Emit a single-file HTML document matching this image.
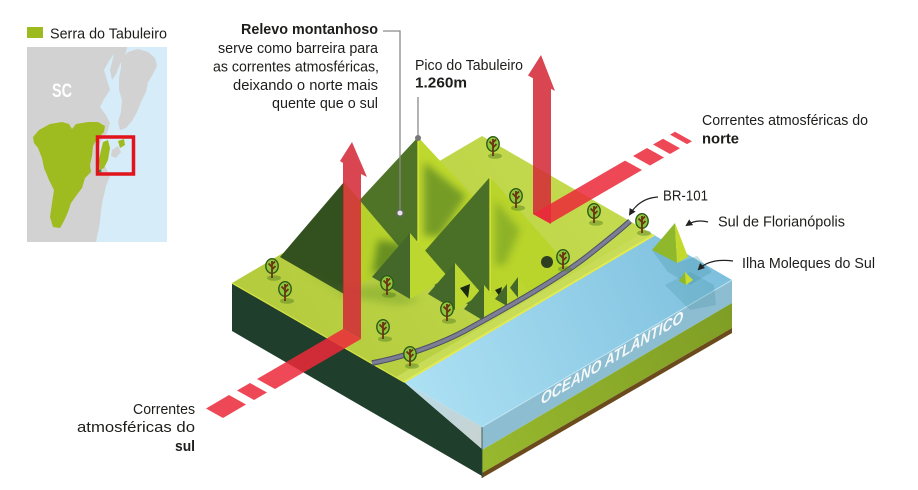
<!DOCTYPE html>
<html><head><meta charset="utf-8"><style>
html,body{margin:0;padding:0;background:#fff;}
svg{display:block;}
text{font-family:"Liberation Sans",sans-serif;fill:#1d1d1b;}
</style></head><body>
<svg width="918" height="490" viewBox="0 0 918 490" xmlns="http://www.w3.org/2000/svg">
<defs>
<linearGradient id="land" gradientUnits="userSpaceOnUse" x1="300" y1="340" x2="560" y2="160">
<stop offset="0" stop-color="#b4cc3e"/><stop offset="1" stop-color="#c4da4e"/></linearGradient>
<linearGradient id="sea" gradientUnits="userSpaceOnUse" x1="420" y1="400" x2="720" y2="270">
<stop offset="0" stop-color="#ace0f3"/><stop offset="1" stop-color="#7ec0de"/></linearGradient>
<linearGradient id="beach" gradientUnits="userSpaceOnUse" x1="404" y1="382" x2="482" y2="449">
<stop offset="0" stop-color="#b7dcea"/><stop offset="1" stop-color="#c9d2cf"/></linearGradient>
<linearGradient id="soil" gradientUnits="userSpaceOnUse" x1="482" y1="460" x2="732" y2="315">
<stop offset="0" stop-color="#98b82e"/><stop offset="1" stop-color="#7f9e25"/></linearGradient>
<filter id="b4" x="-50%" y="-50%" width="200%" height="200%"><feGaussianBlur stdDeviation="4"/></filter>
<filter id="b2" x="-50%" y="-50%" width="200%" height="200%"><feGaussianBlur stdDeviation="2"/></filter>
<marker id="ah" markerWidth="8" markerHeight="8" refX="5" refY="4" orient="auto" markerUnits="userSpaceOnUse"><path d="M0,0.5 L7,4 L0,7.5 Z" fill="#222"/></marker>
<g id="tree">
<ellipse cx="2" cy="11" rx="7" ry="2.8" fill="#4f7f1e" opacity="0.45"/>
<ellipse cx="0" cy="-1" rx="6.2" ry="7.3" fill="#8fc63c" stroke="#2f5a16" stroke-width="1.4"/>
<path d="M0,-6 V11 M0,0 L-3.5,-3.5 M0,2.5 L3.5,-1 M0,-2.5 L3,-5.5" stroke="#6b3413" stroke-width="1.8" fill="none"/>
</g>
</defs>

<!-- ===== Legend & map ===== -->
<rect x="27" y="27" width="16" height="11" fill="#9dbb1f"/>
<text x="50" y="38.5" font-size="15" textLength="117" lengthAdjust="spacingAndGlyphs">Serra do Tabuleiro</text>

<rect x="27" y="47" width="140" height="195" fill="#d6ecf8"/>
<polygon fill="#d2d2d2" points="27,47 118,47 114,54 109,61 104,70 107,80 110,90 104,99 100,107 106,115 110,123 107,133 101,141 97,150 99,160 106,168 110,176 106,186 103,199 101,210 100,222 98,232 96,242 27,242"/>
<polygon fill="#d2d2d2" points="116,47 127,47 125,56 120,64 116,74 112,80 110,70"/>
<polygon fill="#d2d2d2" points="121,60 128,52 138,49 148,52 155,58 157,66 153,74 148,82 146,92 141,102 137,112 132,121 126,128 120,130 118,122 121,112 122,100 119,90 119,78 121,68"/>
<polygon fill="#d2d2d2" points="112,150 118,146 121,152 116,158 111,156"/>
<polygon fill="#9ebb1f" points="33,137 39,130 50,124 62,122 69,124 72,129 76,124 88,122 98,122 105,126 104,132 97,139 93,146 92,156 90,165 91,172 85,178 82,188 76,196 71,203 68,212 64,221 60,228 53,227 50,217 52,203 54,190 49,180 44,168 42,158 38,148 34,143"/>
<polygon fill="#9ebb1f" points="103,142 108,140 110,148 108,160 104,168 100,170 99,160 101,150"/>
<polygon fill="#9ebb1f" points="118,141 124,139 125,145 120,148"/>
<circle cx="100" cy="171" r="1.5" fill="#2a9a4a"/>
<rect x="97.5" y="137" width="36" height="37" fill="none" stroke="#e1141c" stroke-width="3.5"/>
<text x="52" y="97" font-size="19" font-weight="bold" style="fill:#fff" textLength="20" lengthAdjust="spacingAndGlyphs">SC</text>

<!-- ===== Block ===== -->
<polygon fill="#1f3e2c" points="232,283 404,382 482,449 482,476 232,331"/>
<polygon fill="url(#beach)" points="404,382 482,427 482,449"/>
<polygon fill="#8dbdd1" points="482,427 732,280 732,303 482,450"/>
<polygon fill="url(#soil)" points="482,450 732,303 732,328 482,473"/>
<polygon fill="#6b4a1c" points="482,473 732,328 732,333 482,478"/>
<line x1="482" y1="427" x2="482" y2="478" stroke="#2a4a3a" stroke-width="0.8"/>
<polygon fill="url(#land)" points="232,283 482,136 654,235 404,382"/>
<polygon fill="#c8dc58" points="404,382 654,235 644,232 396,377"/>
<line x1="232" y1="283" x2="404" y2="382" stroke="#d6e244" stroke-width="1.3"/>
<polygon fill="url(#sea)" points="404,382 654,235 732,280 482,427"/>
<line x1="482" y1="427" x2="732" y2="280" stroke="#c2e6f4" stroke-width="1"/>
<line x1="404" y1="382" x2="654" y2="235" stroke="#e2ea4e" stroke-width="2"/>
<polygon fill="#3f8fa0" opacity="0.28" points="652,250 677,263 697,256 712,272 690,285 668,272"/>
<polygon fill="#3f8fa0" opacity="0.24" points="665,285 690,272 714,285 716,305 690,310"/>
<polygon fill="#8fb82c" points="675,223 652,250 677,263"/>
<polygon fill="#c3da2c" points="675,223 677,263 688,257"/>
<polygon fill="#8fb82c" points="685,272 679,281 686,285"/>
<polygon fill="#c9dc30" points="685,272 686,285 693,280"/>
<text transform="matrix(0.862,-0.507,0,1,541,405)" font-size="16" font-weight="bold" font-style="italic" style="fill:#f4f8f9" textLength="165" lengthAdjust="spacingAndGlyphs">OCEANO ATLÂNTICO</text>

<!-- ===== Mountains ===== -->
<polygon fill="#4f7428" points="418,137 330,232 418,283"/>
<polygon fill="#bed82d" points="418,137 418,283 506,232"/>
<polygon fill="#4f7d22" opacity="0.65" filter="url(#b4)" points="424,162 466,196 440,236 424,236"/>
<line x1="418" y1="137" x2="418" y2="250" stroke="#e2ea3c" stroke-width="1.2"/>
<polygon fill="#33501f" points="344,182 280,257 344,294"/>
<polygon fill="#b6d12b" points="344,182 344,294 408,257"/>
<polygon fill="#3f6d1c" opacity="0.65" filter="url(#b4)" points="378,240 404,244 398,272 372,274"/>
<polygon fill="#4a6f26" points="490,177 408,270 490,317"/>
<polygon fill="#b9d42b" points="490,177 490,317 572,270"/>
<polygon fill="#5a8a22" opacity="0.45" filter="url(#b4)" points="495,200 520,230 505,265 495,265"/>
<line x1="490" y1="177" x2="490" y2="300" stroke="#e2ea3c" stroke-width="1.2"/>
<polygon fill="#5f8f22" opacity="0.35" filter="url(#b4)" points="300,268 344,296 400,305 420,300 380,284 340,290"/>
<polygon fill="#44682a" points="410,233 372,277 410,299"/>
<polygon fill="#bcd72f" points="410,233 410,299 448,277"/>
<polygon fill="#44682a" points="455,263 428,294 455,310"/>
<polygon fill="#bcd72f" points="455,263 455,310 482,294"/>
<polygon fill="#1a2a10" points="460,288 470,284 468,298"/>
<polygon fill="#44682a" points="484,285 464,309 484,321"/>
<polygon fill="#bcd72f" points="484,285 484,321 504,309"/>
<polygon fill="#1a2a10" points="495,290 502,287 500,297"/>
<polygon fill="#44682a" points="518,277 506,293 518,300"/>
<polygon fill="#bcd72f" points="518,277 518,300 530,293"/>
<polygon fill="#44682a" points="507,284 495,299 507,306"/>
<polygon fill="#bcd72f" points="507,284 507,306 519,299"/>

<!-- road -->
<path d="M372,363 C400,358 440,345 470,328 C510,306 560,278 590,254 C605,242 618,232 630,221" fill="none" stroke="#4e5062" stroke-width="5.5"/>
<path d="M372,363 C400,358 440,345 470,328 C510,306 560,278 590,254 C605,242 618,232 630,221" fill="none" stroke="#7b7e94" stroke-width="3.5"/>

<circle cx="547" cy="262" r="6" fill="#2e3e22"/>

<use href="#tree" x="272" y="267"/>
<use href="#tree" x="285" y="290"/>
<use href="#tree" x="387" y="284"/>
<use href="#tree" x="383" y="328"/>
<use href="#tree" x="447" y="310"/>
<use href="#tree" x="410" y="355"/>
<use href="#tree" x="493" y="145"/>
<use href="#tree" x="516" y="197"/>
<use href="#tree" x="594" y="212"/>
<use href="#tree" x="642" y="222"/>
<use href="#tree" x="563" y="258"/>

<!-- ===== Red arrows ===== -->
<g opacity="0.88">
<polygon fill="#d42c39" points="352,142 367,177 361,174 361,339 343,329 343,163 340,161"/>
<polygon fill="#d42c39" points="541,55 555,91 551,88.7 551,224 533,214 533,78.3 528,75.5"/>
</g>
<g opacity="0.86" fill="#ec2a3a">
<polygon points="343,329 361,339 275,389 257,379"/>
<polygon points="250,383 267,392.5 254,400 237,390.5"/>
<polygon points="229,395 246,404.5 223,418 206,408.5"/>
<polygon points="533,214 625,160.6 642,170 550,223.5"/>
<polygon points="633,156 647,148 664,157.5 650,165.5"/>
<polygon points="653,144.5 663,138.7 680,148.2 670,154"/>
<polygon points="670,134.6 675,131.7 692,141.2 687,144.1"/>
</g>

<!-- ===== Leader lines ===== -->
<polyline points="383,31 400,31 400,210" fill="none" stroke="#8a8a8a" stroke-width="1.3"/>
<circle cx="400" cy="213" r="3.3" fill="#e6e6e6" stroke="#666" stroke-width="1.5"/>
<line x1="418" y1="97" x2="418" y2="137" stroke="#8a8a8a" stroke-width="1.3"/>
<circle cx="418" cy="138" r="3" fill="#777"/>

<path d="M658,197 Q640,198 630,214" fill="none" stroke="#222" stroke-width="1.2" marker-end="url(#ah)"/>
<path d="M708,222 Q696,219 687,225" fill="none" stroke="#222" stroke-width="1.2" marker-end="url(#ah)"/>
<path d="M733,261 Q710,258 699,269" fill="none" stroke="#222" stroke-width="1.2" marker-end="url(#ah)"/>

<!-- ===== Labels ===== -->
<g font-size="15" text-anchor="end">
<text x="378" y="34" font-weight="bold" textLength="137" lengthAdjust="spacingAndGlyphs">Relevo montanhoso</text>
<text x="378" y="53" textLength="160" lengthAdjust="spacingAndGlyphs">serve como barreira para</text>
<text x="379" y="71.5" textLength="166" lengthAdjust="spacingAndGlyphs">as correntes atmosféricas,</text>
<text x="378" y="90" textLength="145" lengthAdjust="spacingAndGlyphs">deixando o norte mais</text>
<text x="378" y="108" textLength="106" lengthAdjust="spacingAndGlyphs">quente que o sul</text>
<text x="195" y="414" textLength="62" lengthAdjust="spacingAndGlyphs">Correntes</text>
<text x="195" y="432" textLength="118" lengthAdjust="spacingAndGlyphs">atmosféricas do</text>
<text x="195" y="451" font-weight="bold" textLength="20" lengthAdjust="spacingAndGlyphs">sul</text>
</g>
<g font-size="15">
<text x="415" y="70" textLength="108" lengthAdjust="spacingAndGlyphs">Pico do Tabuleiro</text>
<text x="415" y="87.5" font-weight="bold" textLength="52" lengthAdjust="spacingAndGlyphs">1.260m</text>
<text x="702" y="125" textLength="166" lengthAdjust="spacingAndGlyphs">Correntes atmosféricas do</text>
<text x="702" y="143.5" font-weight="bold" textLength="37" lengthAdjust="spacingAndGlyphs">norte</text>
<text x="663" y="200.5" textLength="45" lengthAdjust="spacingAndGlyphs">BR-101</text>
<text x="718" y="226.5" textLength="127" lengthAdjust="spacingAndGlyphs">Sul de Florianópolis</text>
<text x="742" y="268" textLength="133" lengthAdjust="spacingAndGlyphs">Ilha Moleques do Sul</text>
</g>
</svg>
</body></html>
